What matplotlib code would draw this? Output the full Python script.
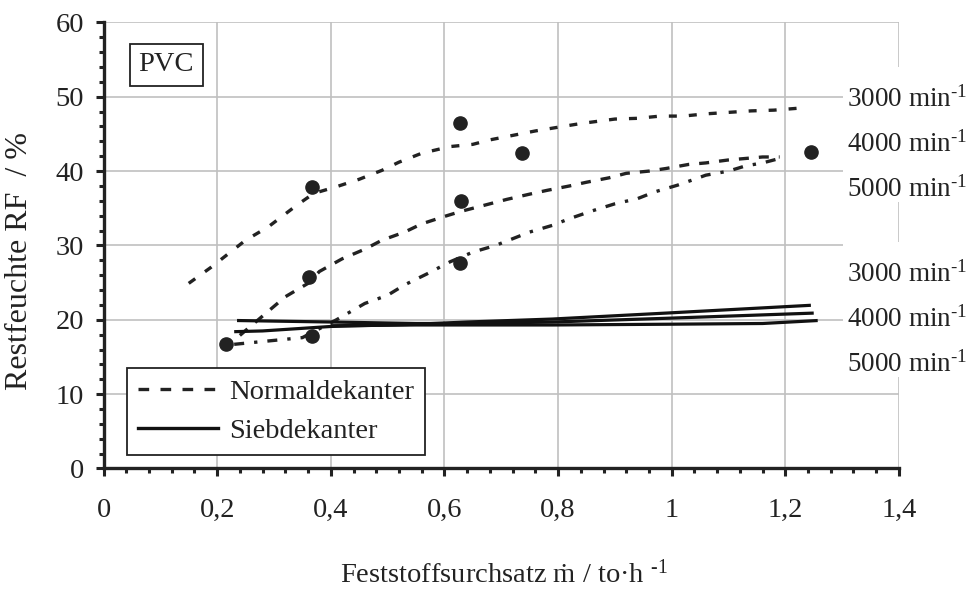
import matplotlib
matplotlib.use('Agg')
import matplotlib.pyplot as plt
from matplotlib.lines import Line2D
from matplotlib.patches import Rectangle
import numpy as np

plt.rcParams['font.family'] = ['Liberation Serif', 'DejaVu Serif']
plt.rcParams['mathtext.fontset'] = 'custom'
plt.rcParams['mathtext.rm'] = 'Liberation Serif'
plt.rcParams['mathtext.it'] = 'Liberation Serif:italic'
FS = 20.5
INK = '#222222'

# Normaldekanter (dashed curves)
nd3000_x = [0.15, 0.19, 0.22, 0.25, 0.29, 0.34, 0.37, 0.41, 0.45, 0.49, 0.52, 0.56, 0.61, 0.65, 0.68, 0.72, 0.76, 0.80, 0.84, 0.87, 0.90, 0.94, 0.98, 1.02, 1.06, 1.10, 1.14, 1.18, 1.23]
nd3000_y = [24.9, 27.1, 28.9, 30.7, 32.5, 35.4, 37.0, 37.9, 38.9, 40.1, 41.2, 42.4, 43.3, 43.6, 44.2, 44.8, 45.4, 45.9, 46.4, 46.7, 47.0, 47.1, 47.4, 47.4, 47.7, 47.9, 48.1, 48.2, 48.5]
nd4000_x = [0.24, 0.30, 0.32, 0.36, 0.38, 0.42, 0.46, 0.49, 0.53, 0.56, 0.60, 0.63, 0.67, 0.71, 0.75, 0.78, 0.82, 0.85, 0.89, 0.92, 0.96, 0.99, 1.03, 1.06, 1.10, 1.13, 1.16, 1.19]
nd4000_y = [17.9, 21.8, 23.1, 24.9, 26.5, 28.2, 29.5, 30.7, 31.8, 32.9, 33.9, 34.6, 35.4, 36.2, 36.9, 37.4, 38.0, 38.5, 39.1, 39.7, 40.0, 40.35, 40.9, 41.1, 41.5, 41.7, 41.9, 41.9]
nd5000_x = [0.23, 0.35, 0.41, 0.46, 0.50, 0.53, 0.57, 0.61, 0.65, 0.69, 0.72, 0.75, 0.79, 0.82, 0.86, 0.90, 0.94, 0.97, 1.01, 1.04, 1.06, 1.10, 1.13, 1.16, 1.19]
nd5000_y = [16.7, 17.6, 20.0, 22.2, 23.3, 24.7, 26.2, 27.8, 29.1, 30.0, 30.9, 31.8, 32.7, 33.6, 34.65, 35.6, 36.3, 37.2, 38.1, 38.9, 39.45, 40.0, 40.7, 41.1, 41.7]

# Siebdekanter (solid curves)
sd3000_x = [0.23, 0.28, 0.40, 0.55, 0.64, 0.79, 0.99, 1.245]
sd3000_y = [18.4, 18.5, 19.1, 19.4, 19.7, 20.1, 20.9, 21.95]
sd4000_x = [0.235, 0.40, 0.55, 0.64, 0.79, 0.99, 1.25]
sd4000_y = [19.9, 19.7, 19.5, 19.5, 19.7, 20.2, 20.9]
sd5000_x = [0.40, 0.55, 0.79, 0.99, 1.16, 1.257]
sd5000_y = [19.2, 19.3, 19.3, 19.4, 19.5, 19.9]

# measured points
dot_x = [0.216, 0.367, 0.362, 0.367, 0.627, 0.630, 0.627, 0.737, 1.245]
dot_y = [16.8, 17.85, 25.8, 37.8, 46.5, 36.0, 27.6, 42.4, 42.6]

speed_labels = ['3000 min$^{\\text{-}1}$', '4000 min$^{\\text{-}1}$', '5000 min$^{\\text{-}1}$']
xticks = [0, 0.2, 0.4, 0.6, 0.8, 1.0, 1.2, 1.4]
xticklabels = ['0', '0,2', '0,4', '0,6', '0,8', '1', '1,2', '1,4']
yticks = [0, 10, 20, 30, 40, 50, 60]

fig = plt.figure(figsize=(9.71, 5.90), dpi=100)
ax = fig.add_axes([0.1066, 0.206, 0.8192, 0.756])

lw = 2.4
ax.plot(nd3000_x, nd3000_y, c=INK, lw=lw, dashes=(2.4, 3.6), zorder=3)
ax.plot(nd4000_x, nd4000_y, c=INK, lw=lw, dashes=(3, 3), zorder=3)
ax.plot(nd5000_x, nd5000_y, c=INK, lw=lw, dashes=(3, 3, 1, 3), zorder=3)
for sx, sy in [(sd3000_x, sd3000_y), (sd4000_x, sd4000_y), (sd5000_x, sd5000_y)]:
    ax.plot(sx, sy, c='#111111', lw=2.3, solid_capstyle='butt', zorder=3)
ax.plot(dot_x, dot_y, 'o', c=INK, ms=9.5, zorder=4)

ax.set_xlim(0, 1.4)
ax.set_ylim(0, 60)
ax.set_xticks(xticks)
ax.set_xticklabels(xticklabels)
ax.set_yticks(yticks)
ax.set_xticks(np.arange(0, 1.401, 0.04), minor=True)
ax.set_yticks(np.arange(0, 60.1, 2), minor=True)
ax.grid(True, which='major', color='#c0c0c0', lw=1.2)
ax.set_axisbelow(True)
ax.tick_params(which='major', direction='out', length=6, width=2.2, color=INK,
               labelsize=FS, labelcolor=INK)
ax.tick_params(axis='x', which='major', pad=15)
ax.tick_params(axis='y', which='major', pad=8)
ax.tick_params(which='minor', direction='out', length=3.8, width=2.2, color=INK)
for s in ['top', 'right']:
    ax.spines[s].set_visible(False)
for s in ['left', 'bottom']:
    ax.spines[s].set_linewidth(2.4)
    ax.spines[s].set_color(INK)

ax.set_ylabel('Restfeuchte RF  / %', fontsize=23, color=INK)
ax.yaxis.set_label_coords(-0.088, 0.465)
ax.set_xlabel('Feststoffsurchsatz ṁ / to·h $^{\\text{-}1}$', fontsize=FS, color=INK)
ax.xaxis.set_label_coords(0.503, -0.205)

# PVC box
ax.text(0.079, 0.905, 'PVC', transform=ax.transAxes, fontsize=FS, color=INK,
        ha='center', va='center',
        bbox=dict(boxstyle='square,pad=0.3', fc='white', ec=INK, lw=1.3))

# white panels behind the speed labels
for y0 in [0.597, 0.205]:
    ax.add_patch(Rectangle((0.9296, y0), 0.2, 0.303, transform=ax.transAxes,
                           fc='white', ec='none', clip_on=False, zorder=1))
for ys in [[0.811, 0.710, 0.609], [0.419, 0.318, 0.217]]:
    for yy, lab in zip(ys, speed_labels):
        ax.text(0.9345, yy, lab, transform=ax.transAxes, fontsize=19.5, color=INK,
                ha='left', va='baseline', clip_on=False, zorder=2)

handles = [Line2D([], [], c=INK, lw=lw, dashes=(3.2, 3.4)),
           Line2D([], [], c='#111111', lw=lw)]
leg = ax.legend(handles, ['Normaldekanter', 'Siebdekanter'], loc='lower left',
                bbox_to_anchor=(0.029, 0.030), borderaxespad=0, fancybox=False,
                framealpha=1, edgecolor=INK, fontsize=FS, handlelength=2.8,
                handletextpad=0.4, borderpad=0.4, labelspacing=0.45)
leg.get_frame().set_linewidth(1.3)
for t in leg.get_texts():
    t.set_color(INK)

fig.savefig('out.png', dpi=100)
